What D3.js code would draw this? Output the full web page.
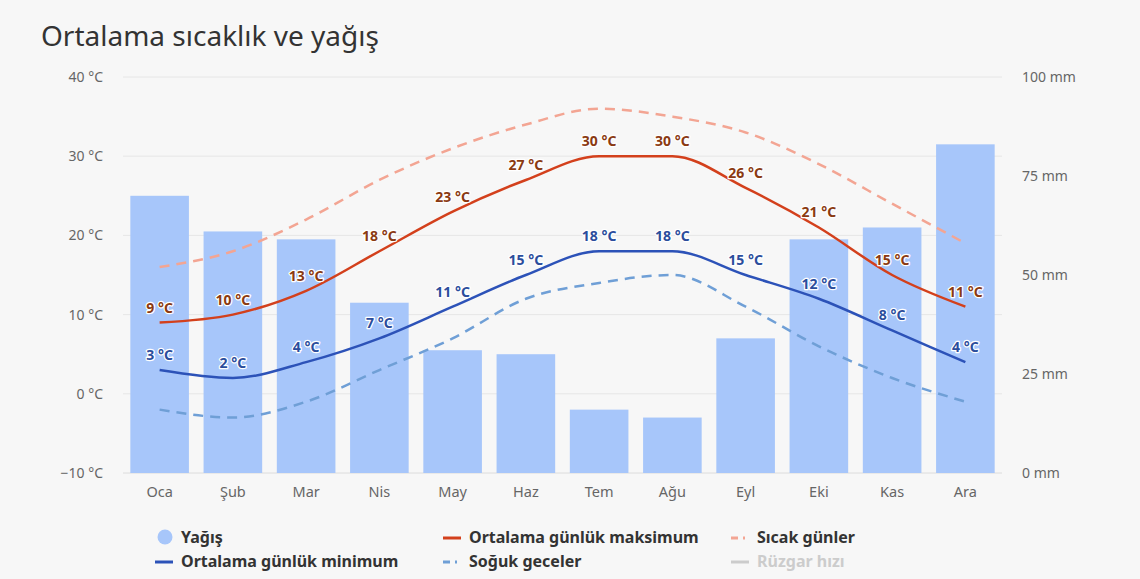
<!DOCTYPE html>
<html><head><meta charset="utf-8">
<script src="https://cdn.jsdelivr.net/npm/d3@7"></script>
<style>
html,body{margin:0;padding:0;background:#f7f7f7;}
svg{display:block;font-family:"Noto Sans","Open Sans",sans-serif;}
</style></head>
<body><svg id="c" width="1140" height="579"></svg>
<script>
const months = ["Oca","Şub","Mar","Nis","May","Haz","Tem","Ağu","Eyl","Eki","Kas","Ara"];
const precip = [70,61,59,43,31,30,16,14,34,59,62,83];
const tMax = [9,10,13,18,23,27,30,30,26,21,15,11];
const tMin = [3,2,4,7,11,15,18,18,15,12,8,4];
const hotDays = [16,18,22,27,31,34,36,35,33,29,24,19];
const coldNights = [-2,-3,-1,3,7,12,14,15,11,6,2,-1];
const tempTicks = [-10,0,10,20,30,40];
const rainTicks = [0,25,50,75,100];
const title = "Ortalama sıcaklık ve yağış";

const svg = d3.select("#c");
svg.append("rect").attr("width",1140).attr("height",579).attr("fill","#f7f7f7");

const x = d3.scaleBand().domain(months).range([123,1002]).paddingInner(0.2).paddingOuter(0.1);
const xc = m => x(m) + x.bandwidth()/2;
const yT = d3.scaleLinear().domain([-10,40]).range([473,77]);
const yR = d3.scaleLinear().domain([0,100]).range([473,77]);

svg.append("text").attr("x",41).attr("y",46).attr("font-size",28).attr("fill","#333").text(title);

// grid
svg.append("g").selectAll("line").data(tempTicks).join("line")
  .attr("x1",123).attr("x2",1002).attr("y1",d=>yT(d)).attr("y2",d=>yT(d))
  .attr("stroke",d=>d===-10?"#dcdcdc":"#e6e6e6").attr("stroke-width",1);

// left axis
const la = svg.append("g").attr("transform","translate(103,0)")
  .call(d3.axisLeft(yT).tickValues(tempTicks).tickSize(0).tickPadding(0).tickFormat(d=>(d<0?"−"+(-d):d)+" °C"));
la.select(".domain").remove();
la.selectAll("text").attr("font-size",14).attr("fill","#666").attr("font-family","Noto Sans, sans-serif");

// right axis
const ra = svg.append("g").attr("transform","translate(1022,0)")
  .call(d3.axisRight(yR).tickValues(rainTicks).tickSize(0).tickPadding(0).tickFormat(d=>d+" mm"));
ra.select(".domain").remove();
ra.selectAll("text").attr("font-size",14).attr("fill","#666").attr("font-family","Noto Sans, sans-serif");

// bottom axis
const ba = svg.append("g").attr("transform","translate(0,473)")
  .call(d3.axisBottom(x).tickSize(0).tickPadding(14));
ba.select(".domain").remove();
ba.selectAll("text").attr("font-size",14.5).attr("fill","#666").attr("font-family","Noto Sans, sans-serif");

// bars
svg.append("g").selectAll("rect").data(precip).join("rect")
  .attr("x",(d,i)=>x(months[i])).attr("width",x.bandwidth())
  .attr("y",d=>yR(d)).attr("height",d=>yR(0)-yR(d)).attr("fill","#a7c6fa");

const line = d3.line().x((d,i)=>xc(months[i])).y(d=>yT(d)).curve(d3.curveMonotoneX);

svg.append("path").datum(hotDays).attr("d",line).attr("fill","none")
  .attr("stroke","#f3a593").attr("stroke-width",2.5).attr("stroke-dasharray","10,7");
svg.append("path").datum(coldNights).attr("d",line).attr("fill","none")
  .attr("stroke","#6f9fd6").attr("stroke-width",2.5).attr("stroke-dasharray","10,7");
svg.append("path").datum(tMax).attr("d",line).attr("fill","none")
  .attr("stroke","#d3401c").attr("stroke-width",2.5);
svg.append("path").datum(tMin).attr("d",line).attr("fill","none")
  .attr("stroke","#2c52b8").attr("stroke-width",2.5);

function labels(data, color){
  svg.append("g").selectAll("text").data(data).join("text")
    .attr("x",(d,i)=>xc(months[i])).attr("y",d=>yT(d)-10)
    .attr("text-anchor","middle").attr("font-size",14).attr("font-weight","bold")
    .attr("fill",color).attr("stroke","#fff").attr("stroke-width",2.5)
    .attr("stroke-linejoin","round").attr("paint-order","stroke")
    .text(d=>d+" °C");
}
labels(tMax,"#8a3a12");
labels(tMin,"#2b4d9c");

// legend
const lg = svg.append("g").attr("font-size",16).attr("font-weight","bold");
const items = [
  {t:"Yağış",x:155,y:538,type:"circle",c:"#a7c6fa"},
  {t:"Ortalama günlük maksimum",x:443,y:538,type:"line",c:"#d3401c"},
  {t:"Sıcak günler",x:731,y:538,type:"dash",c:"#f3a593"},
  {t:"Ortalama günlük minimum",x:155,y:562,type:"line",c:"#2c52b8"},
  {t:"Soğuk geceler",x:443,y:562,type:"dash",c:"#6f9fd6"},
  {t:"Rüzgar hızı",x:731,y:562,type:"line",c:"#cccccc",dis:true}
];
items.forEach(it=>{
  if(it.type==="circle"){
    lg.append("circle").attr("cx",it.x+10).attr("cy",it.y-1).attr("r",7.5).attr("fill",it.c);
  } else if(it.type==="line"){
    lg.append("line").attr("x1",it.x).attr("x2",it.x+18).attr("y1",it.y).attr("y2",it.y)
      .attr("stroke",it.c).attr("stroke-width",3);
  } else {
    lg.append("line").attr("x1",it.x).attr("x2",it.x+18).attr("y1",it.y).attr("y2",it.y)
      .attr("stroke",it.c).attr("stroke-width",3).attr("stroke-dasharray","7,5,2,6");
  }
  lg.append("text").attr("x",it.x+26).attr("y",it.y+5).attr("fill",it.dis?"#cccccc":"#333").text(it.t);
});
</script></body></html>
